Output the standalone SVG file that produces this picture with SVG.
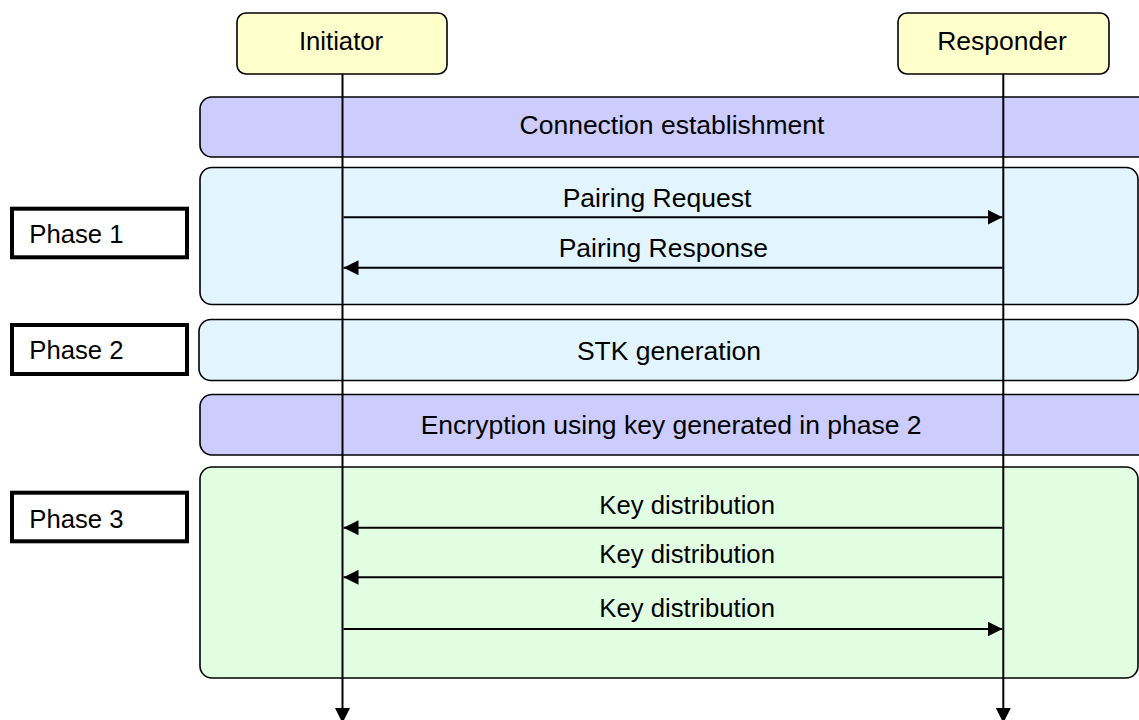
<svg xmlns="http://www.w3.org/2000/svg" width="1139" height="720" viewBox="0 0 1139 720">
<style>
text{font-family:"Liberation Sans",Arial,sans-serif;font-size:26.5px;fill:#000}
.sm{font-size:25.7px}
.actor{fill:#FFFFCC;stroke:#000;stroke-width:1.6}
.band{fill:#CCCCFF;stroke:#000;stroke-width:1.6}
.blue{fill:#E2F4FE;stroke:#000;stroke-width:1.6}
.green{fill:#E2FEE2;stroke:#000;stroke-width:1.6}
.phase{fill:#fff;stroke:#000;stroke-width:4}
.life{stroke:#000;stroke-width:2;fill:none}
.msg{stroke:#000;stroke-width:2;fill:none;marker-end:url(#ah)}
</style>
<defs>
<marker id="ah" markerWidth="15" markerHeight="15" refX="15" refY="7.5" orient="auto" markerUnits="userSpaceOnUse">
<path d="M0,0 L15,7.5 L0,15 Z" fill="#000"/>
</marker>
</defs>
<rect id="bg" x="0" y="0" width="1139" height="720" fill="#fff"/>
<g id="band-connection"><rect class="band" x="200" y="97" width="960" height="60" rx="12"/><text x="672" y="133.5" text-anchor="middle">Connection establishment</text></g>
<g id="band-phase1"><rect class="blue" x="200" y="167.5" width="938" height="137" rx="12"/></g>
<g id="band-phase2"><rect class="blue" x="199" y="319.5" width="939" height="61" rx="12"/><text x="669" y="359.5" text-anchor="middle">STK generation</text></g>
<g id="band-encryption"><rect class="band" x="200" y="394.5" width="960" height="60.5" rx="12"/><text x="420.7" y="433.5">Encryption using key generated in phase 2</text></g>
<g id="band-phase3"><rect class="green" x="200" y="467" width="938" height="211" rx="12"/></g>
<g id="phase1"><rect class="phase" x="12" y="208.7" width="175" height="48.6"/><text class="sm" x="29.3" y="243.3">Phase 1</text></g>
<g id="phase2"><rect class="phase" x="12" y="325" width="175" height="49"/><text class="sm" x="29.3" y="359.3">Phase 2</text></g>
<g id="phase3"><rect class="phase" x="12" y="492.7" width="175" height="48.6"/><text class="sm" x="29.3" y="527.7">Phase 3</text></g>
<g id="connectors">
<line class="life" x1="342.5" y1="74" x2="342.5" y2="709"/>
<polygon points="335,708 350,708 342.5,723" fill="#000"/>
<line class="life" x1="1003.3" y1="74" x2="1003.3" y2="709"/>
<polygon points="995.8,708 1010.8,708 1003.3,723" fill="#000"/>
<line class="msg" x1="343.5" y1="217.3" x2="1002.5" y2="217.3"/>
<line class="msg" x1="1002.5" y1="267.7" x2="343.5" y2="267.7"/>
<line class="msg" x1="1002.5" y1="527.7" x2="343.5" y2="527.7"/>
<line class="msg" x1="1002.5" y1="577.3" x2="343.5" y2="577.3"/>
<line class="msg" x1="343.5" y1="629" x2="1002.5" y2="629"/>
<text x="562.7" y="206.7">Pairing Request</text>
<text x="558.7" y="256.7">Pairing Response</text>
<text class="sm" x="599.3" y="514.3">Key distribution</text>
<text class="sm" x="599.3" y="563.3">Key distribution</text>
<text class="sm" x="599.3" y="617.3">Key distribution</text>
</g>
<g id="initiator"><rect class="actor" x="237" y="13" width="210" height="61" rx="9"/><text class="sm" x="341" y="50" text-anchor="middle">Initiator</text></g>
<g id="responder"><rect class="actor" x="898" y="13" width="211" height="61" rx="9"/><text x="1002" y="50" text-anchor="middle">Responder</text></g>
</svg>
